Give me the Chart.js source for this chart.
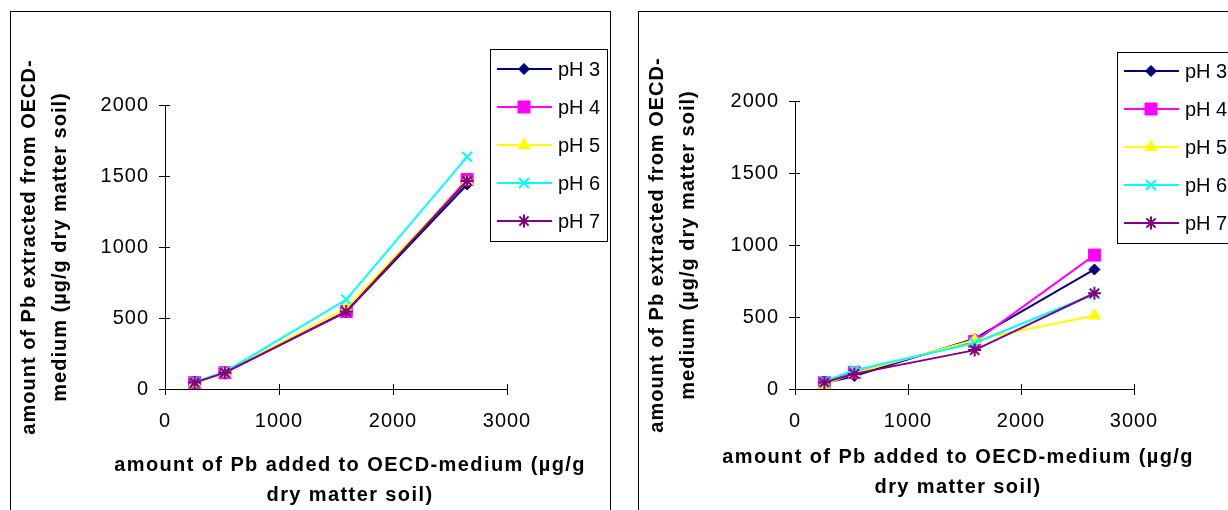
<!DOCTYPE html>
<html>
<head>
<meta charset="utf-8">
<script src="https://cdn.jsdelivr.net/npm/chart.js@4/dist/chart.umd.min.js"></script>
<style>
  html, body { margin: 0; padding: 0; background: #fff; width: 1228px; height: 510px; overflow: hidden; }
  .panel { position: absolute; border: 1px solid #000; box-sizing: border-box; }
  canvas { position: absolute; }
</style>
</head>
<body>
<div class="panel" style="left:10px; top:11px; width:601px; height:520px;"></div>
<div class="panel" style="left:638px; top:11px; width:620px; height:520px;"></div>
<canvas id="left-chart" width="600" height="499" style="left:10px; top:11px;"></canvas>
<canvas id="right-chart" width="590" height="499" style="left:638px; top:11px;"></canvas>
<script>
// data
const seriesLabels = ["pH 3", "pH 4", "pH 5", "pH 6", "pH 7"];
const addedPb = [260, 525, 1590, 2650];

const leftPH3 = [45, 115, 545, 1440];
const leftPH4 = [45, 115, 545, 1475];
const leftPH5 = [40, 115, 570, 1465];
const leftPH6 = [50, 120, 630, 1635];
const leftPH7 = [45, 115, 545, 1465];

const rightPH3 = [40, 90, 350, 830];
const rightPH4 = [45, 115, 330, 930];
const rightPH5 = [30, 110, 340, 510];
const rightPH6 = [55, 130, 320, 660];
const rightPH7 = [45, 105, 270, 665];

const xTitle = ["amount of Pb added to OECD-medium (µg/g", "dry matter soil)"];
const yTitle = ["amount of Pb extracted from OECD-", "medium (µg/g dry matter soil)"];

// marker styles (Excel defaults)
const colors = ["#000080", "#FF00FF", "#FFFF00", "#00FFFF", "#800080"];
const pointStyles = ["rectRot", "rect", "triangle", "crossRot", "star"];
const pointRadii = [5.5, 8.5, 7, 7, 6.5];
const pointBorders = [1, 1, 1, 2, 2];

const FONT = "'Liberation Sans', Arial, sans-serif";

function buildDatasets(series) {
  return series.map((vals, i) => ({
    label: seriesLabels[i],
    data: addedPb.map((x, j) => ({ x: x, y: vals[j] })),
    borderColor: colors[i],
    backgroundColor: colors[i],
    borderWidth: 2,
    pointStyle: pointStyles[i],
    pointRadius: pointRadii[i],
    pointBorderWidth: pointBorders[i],
    pointBackgroundColor: colors[i],
    pointBorderColor: colors[i],
    tension: 0,
    order: series.length - i // later series on top, like Excel
  }));
}

// Excel style letter spacing for everything drawn by the chart
const spacingPlugin = {
  id: "spacing",
  beforeDraw(chart) {
    chart.ctx.letterSpacing = "1px";
  }
};

// inner half of the crossing tick marks
const innerTicks = {
  id: "innerTicks",
  afterDraw(chart) {
    const ctx = chart.ctx;
    const xs = chart.scales.x, ys = chart.scales.y;
    ctx.save();
    ctx.strokeStyle = "#000";
    ctx.lineWidth = 1;
    ctx.beginPath();
    xs.ticks.forEach(t => {
      if (t.value === 0) return;
      const px = Math.round(xs.getPixelForValue(t.value)) + 0.5;
      ctx.moveTo(px, ys.bottom);
      ctx.lineTo(px, ys.bottom - 5);
    });
    ys.ticks.forEach(t => {
      const py = Math.round(ys.getPixelForValue(t.value)) + 0.5;
      ctx.moveTo(xs.left, py);
      ctx.lineTo(xs.left + 5, py);
    });
    ctx.stroke();
    ctx.restore();
  }
};

// x title drawn without the scale's width limit (line 1 is wider than the axis)
const xTitlePlugin = {
  id: "xTitle",
  afterDraw(chart, args, opts) {
    const ctx = chart.ctx;
    ctx.save();
    ctx.letterSpacing = "1.4px";
    ctx.fillStyle = "#000";
    ctx.font = "bold 20px " + FONT;
    ctx.textAlign = "center";
    ctx.textBaseline = "middle";
    xTitle.forEach((line, i) => ctx.fillText(line, opts.cx, opts.y + i * 30));
    ctx.restore();
  }
};

// boxed legend with line + marker
const boxLegend = {
  id: "boxLegend",
  afterDraw(chart, args, opts) {
    const ctx = chart.ctx;
    ctx.save();
    ctx.letterSpacing = "0px";
    ctx.fillStyle = "#fff";
    ctx.fillRect(opts.x, opts.y, opts.w, opts.h);
    ctx.strokeStyle = "#000";
    ctx.lineWidth = 1;
    ctx.strokeRect(opts.x + 0.5, opts.y + 0.5, opts.w, opts.h);
    chart.data.datasets.forEach((ds, i) => {
      const y = opts.rowY + i * 38;
      ctx.strokeStyle = ds.borderColor;
      ctx.lineWidth = 2;
      ctx.beginPath();
      ctx.moveTo(opts.x + 7, y);
      ctx.lineTo(opts.x + 62, y);
      ctx.stroke();
      if (Chart.helpers && Chart.helpers.drawPoint) {
        ctx.fillStyle = ds.pointBackgroundColor;
        ctx.strokeStyle = ds.pointBorderColor;
        ctx.lineWidth = ds.pointBorderWidth;
        Chart.helpers.drawPoint(ctx, {
          pointStyle: ds.pointStyle,
          radius: ds.pointRadius,
          borderWidth: ds.pointBorderWidth,
          rotation: 0
        }, opts.x + 34, y);
      }
      ctx.fillStyle = "#000";
      ctx.font = "20px " + FONT;
      ctx.textBaseline = "middle";
      ctx.textAlign = "left";
      ctx.fillText(ds.label, opts.x + 68, y + 1);
    });
    ctx.restore();
  }
};

function makeChart(id, series, lay) {
  const ctx = document.getElementById(id).getContext("2d");
  return new Chart(ctx, {
    type: "line",
    data: { datasets: buildDatasets(series) },
    plugins: [spacingPlugin, innerTicks, xTitlePlugin, boxLegend],
    options: {
      responsive: false,
      animation: false,
      events: [],
      layout: { padding: { left: 0, top: lay.top, right: lay.right, bottom: 0 } },
      plugins: {
        legend: { display: false },
        tooltip: { enabled: false },
        xTitle: lay.xTitle,
        boxLegend: lay.legend
      },
      scales: {
        x: {
          type: "linear",
          min: 0,
          max: 3000,
          afterFit: s => { s.height = 121; },
          ticks: {
            stepSize: 1000, color: "#000", padding: 14,
            font: { family: FONT, size: 20 },
            callback: v => String(v)
          },
          grid: { drawOnChartArea: false, drawTicks: true, tickLength: 6, color: "#000" },
          border: { color: "#000", width: 1 }
        },
        y: {
          type: "linear",
          min: 0,
          max: 2000,
          afterFit: s => { s.width = lay.yWidth; },
          ticks: {
            stepSize: 500, color: "#000", padding: 10,
            font: { family: FONT, size: 20 },
            callback: v => String(v)
          },
          grid: { drawOnChartArea: false, drawTicks: true, tickLength: 6, color: "#000" },
          border: { color: "#000", width: 1 },
          title: {
            display: true,
            text: yTitle,
            color: "#000",
            font: { family: FONT, size: 20, weight: "bold", lineHeight: "31px" },
            padding: { top: 4, bottom: 0 }
          }
        }
      }
    }
  });
}

makeChart("left-chart", [leftPH3, leftPH4, leftPH5, leftPH6, leftPH7], {
  top: 94, right: 103, yWidth: 155,
  xTitle: { cx: 340, y: 454 },
  legend: { x: 480, y: 38, w: 117, h: 192, rowY: 58 }
});

makeChart("right-chart", [rightPH3, rightPH4, rightPH5, rightPH6, rightPH7], {
  top: 90, right: 94, yWidth: 157,
  xTitle: { cx: 320, y: 446 },
  legend: { x: 479, y: 41, w: 130, h: 191, rowY: 60 }
});
</script>
</body>
</html>
